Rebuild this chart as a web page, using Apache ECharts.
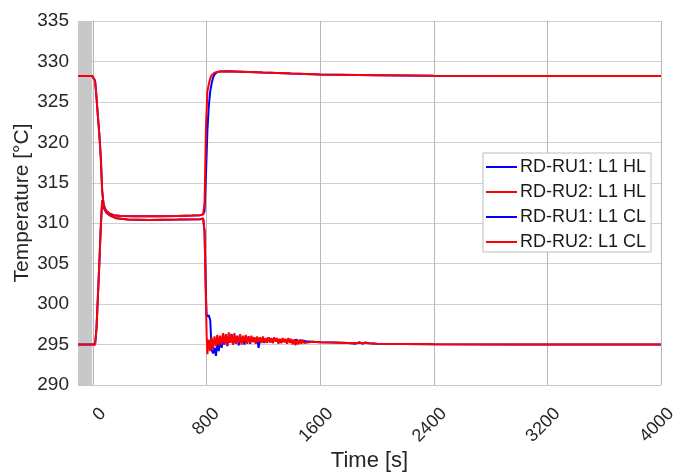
<!DOCTYPE html>
<html>
<head>
<meta charset="utf-8">
<script src="https://cdn.jsdelivr.net/npm/echarts@6/dist/echarts.min.js"></script>
<style>
  html, body { margin: 0; padding: 0; background: #fff; }
  #chart { width: 677px; height: 473px; }
</style>
</head>
<body>
<div id="chart"></div>
<script>
// 数据
const xTicks = [0, 800, 1600, 2400, 3200, 4000];
const yTicks = [290, 295, 300, 305, 310, 315, 320, 325, 330, 335];
const seriesNames = ["RD-RU1: L1 HL", "RD-RU2: L1 HL", "RD-RU1: L1 CL", "RD-RU2: L1 CL"];

// hot leg
const hlTime = [-100, 0, 10, 20, 30, 40, 50, 60, 70, 80, 90, 100, 120, 150, 200, 300, 450, 600, 700, 760, 780, 790, 800, 810, 820, 830, 840, 850, 860, 870, 880, 900, 950, 1000, 1200, 1400, 1600, 2000, 2400, 3000, 4000];
const hlRu1 = [328.2, 328.2, 328.2, 327.6, 325.6, 323.2, 321.0, 318.2, 314.0, 312.3, 311.8, 311.5, 311.2, 311.0, 310.9, 310.85, 310.85, 310.9, 310.95, 311.0, 311.1, 311.5, 316.0, 321.5, 324.5, 326.3, 327.3, 328.0, 328.4, 328.6, 328.7, 328.75, 328.78, 328.75, 328.62, 328.5, 328.4, 328.3, 328.22, 328.2, 328.2];
const hlRu2 = [328.2, 328.2, 328.2, 327.6, 325.6, 323.2, 321.0, 318.2, 314.0, 312.3, 311.8, 311.5, 311.2, 311.0, 310.9, 310.85, 310.85, 310.9, 310.95, 311.0, 311.1, 312.5, 322.0, 326.3, 327.2, 327.9, 328.3, 328.5, 328.6, 328.65, 328.7, 328.75, 328.78, 328.75, 328.62, 328.5, 328.4, 328.3, 328.22, 328.2, 328.2];

// cold leg
const clTime = [-100, 0, 20, 30, 40, 50, 60, 70, 75, 85, 100, 110, 130, 170, 250, 400, 600, 760, 780, 790, 800, 805,
  810, 820, 830, 840, 850, 860, 870, 880, 890, 900, 910, 920, 930, 940, 950, 960, 970, 980, 990,
  1000, 1010, 1020, 1030, 1040, 1050, 1060, 1070, 1080, 1090, 1100, 1110, 1120, 1130, 1140, 1150, 1160, 1170, 1180, 1190,
  1200, 1210, 1220, 1230, 1240, 1250, 1260, 1270, 1280, 1290, 1300, 1310, 1320, 1330, 1340, 1350, 1360, 1370, 1380, 1390,
  1400, 1410, 1420, 1430, 1440, 1450, 1460, 1470, 1480, 1490, 1500,
  1550, 1600, 1700, 1800, 1850, 1880, 1900, 1920, 1950, 2000, 2400, 3000, 4000];
const clRu1 = [295.0, 295.0, 295.0, 297.0, 301.0, 305.0, 309.5, 312.8, 312.5, 311.8, 311.3, 311.4, 310.9, 310.6, 310.45, 310.4, 310.45, 310.5, 310.6, 309.0, 301.0, 298.5,
  298.3, 298.6, 298.0, 294.3, 293.9, 294.6, 293.6, 295.2, 294.2, 295.8, 294.6, 295.6, 295.0, 296.2, 294.8, 295.9, 295.3, 296.3, 295.0,
  295.8, 295.2, 296.1, 294.9, 295.7, 295.3, 296.0, 295.0, 295.8, 295.4, 296.0, 295.1, 295.7, 295.4, 295.9, 295.2, 295.8, 294.6, 295.6, 295.3,
  295.8, 295.2, 295.7, 295.4, 295.9, 295.3, 295.7, 295.2, 295.8, 295.4, 295.7, 295.3, 295.6, 295.2, 295.7, 295.4, 295.6, 295.3, 295.7, 295.3,
  295.6, 295.2, 295.5, 295.3, 295.6, 295.2, 295.5, 295.3, 295.5, 295.3, 295.4,
  295.35, 295.3, 295.25, 295.2, 295.1, 295.3, 295.1, 295.25, 295.15, 295.1, 295.05, 295.02, 295.0];
const clRu2 = [295.0, 295.0, 295.0, 297.0, 301.0, 305.0, 309.5, 312.8, 312.5, 311.8, 311.3, 311.4, 310.9, 310.6, 310.45, 310.4, 310.45, 310.5, 310.6, 309.0, 300.0, 296.0,
  293.8, 295.6, 294.2, 295.9, 294.5, 296.0, 294.8, 296.2, 294.9, 296.1, 295.0, 296.4, 295.1, 296.3, 294.9, 296.5, 295.2, 296.2, 295.0,
  296.4, 295.1, 296.0, 295.2, 296.3, 295.0, 296.1, 295.3, 296.2, 295.1, 296.0, 295.2, 296.1, 295.3, 295.9, 295.1, 296.0, 295.3, 295.9, 295.2,
  296.0, 295.3, 295.8, 295.2, 295.9, 295.3, 295.8, 295.2, 295.9, 295.4, 295.8, 295.1, 295.7, 295.2, 295.8, 295.3, 295.7, 295.1, 295.8, 295.2,
  295.7, 295.0, 295.6, 294.9, 295.6, 295.0, 295.6, 295.1, 295.5, 295.2, 295.4,
  295.35, 295.3, 295.25, 295.2, 295.2, 295.2, 295.2, 295.2, 295.15, 295.1, 295.05, 295.02, 295.0];

const zip = (t, v) => t.map((x, i) => [x, v[i]]);

const font = "Liberation Sans, Arial, sans-serif";
const myChart = echarts.init(document.getElementById("chart"));

const lineSeries = (name, color, t, v) => ({
  name: name,
  type: "line",
  xAxisIndex: 0,
  yAxisIndex: 0,
  data: zip(t, v),
  showSymbol: false,
  symbol: "none",
  lineStyle: { color: color, width: 2 },
  itemStyle: { color: color },
  z: 3,
});

const option = {
  animation: false,
  // grid 0: 数据区 (从 -100 开始), grid 1: 网格线 (0..4000), grid 2: 刻度标签 (右移 10px)
  grid: [
    { left: 78, right: 16, top: 21, bottom: 88, outerBoundsMode: "none" },
    { left: 93, right: 16, top: 21, bottom: 88, outerBoundsMode: "none" },
    { left: 103, right: 6, top: 21, bottom: 88, outerBoundsMode: "none" },
  ],
  legend: {
    orient: "vertical",
    left: 483,
    top: 153,
    padding: [4, 5, 0, 3],
    itemGap: 5,
    itemWidth: 31,
    itemHeight: 2,
    icon: "rect",
    backgroundColor: "#fff",
    borderColor: "#bdbdbd",
    borderWidth: 1,
    borderRadius: 0,
    data: seriesNames,
    textStyle: { fontFamily: font, fontSize: 18, color: "#1a1a1a", lineHeight: 20, padding: [0, 0, 0, -2] },
  },
  xAxis: [
    {
      type: "value",
      gridIndex: 0,
      min: -100,
      max: 4000,
      name: "Time [s]",
      nameLocation: "middle",
      nameGap: 65,
      nameMoveOverlap: false,
      nameTextStyle: { fontFamily: font, fontSize: 22, color: "#262626" },
      axisLine: { show: false },
      axisTick: { show: false },
      axisLabel: { show: false },
      splitLine: { show: false },
    },
    {
      type: "value",
      gridIndex: 1,
      min: xTicks[0],
      max: xTicks[xTicks.length - 1],
      interval: 800,
      axisLine: { show: false },
      axisTick: { show: false },
      axisLabel: { show: false },
      splitLine: { show: true, lineStyle: { color: "#b8b8b8", width: 1 } },
    },
    {
      type: "value",
      gridIndex: 2,
      min: xTicks[0],
      max: xTicks[xTicks.length - 1],
      interval: 800,
      axisLine: { show: false },
      axisTick: { show: false },
      axisLabel: {
        rotate: 45,
        fontFamily: font,
        fontSize: 18,
        color: "#262626",
        margin: 26,
        formatter: (v) => String(v),
      },
      splitLine: { show: false },
    },
  ],
  yAxis: [
    {
      type: "value",
      gridIndex: 0,
      min: yTicks[0],
      max: yTicks[yTicks.length - 1],
      interval: 5,
      name: "Temperature [°C]",
      nameLocation: "middle",
      nameGap: 45,
      nameMoveOverlap: false,
      nameTextStyle: { fontFamily: font, fontSize: 21, color: "#262626" },
      axisLine: { show: false },
      axisTick: { show: false },
      axisLabel: { fontFamily: font, fontSize: 19, color: "#262626", margin: 9 },
      splitLine: { show: true, lineStyle: { color: "#cfcfcf", width: 1 } },
    },
    { type: "value", gridIndex: 1, min: yTicks[0], max: yTicks[yTicks.length - 1], show: false },
    { type: "value", gridIndex: 2, min: yTicks[0], max: yTicks[yTicks.length - 1], show: false },
  ],
  series: [
    Object.assign(lineSeries(seriesNames[0], "#0000ff", hlTime, hlRu1), {
      markArea: {
        silent: true,
        itemStyle: { color: "#c8c8c8" },
        data: [[{ xAxis: -100 }, { xAxis: 0 }]],
      },
    }),
    lineSeries(seriesNames[1], "#ff0000", hlTime, hlRu2),
    lineSeries(seriesNames[2], "#0000ff", clTime, clRu1),
    lineSeries(seriesNames[3], "#ff0000", clTime, clRu2),
  ],
  graphic: [
    // 下边框
    { type: "line", shape: { x1: 78, y1: 385.5, x2: 661, y2: 385.5 }, style: { stroke: "#c8c8c8", lineWidth: 1 }, z: 1 },
  ],
};
myChart.setOption(option);
</script>
</body>
</html>
